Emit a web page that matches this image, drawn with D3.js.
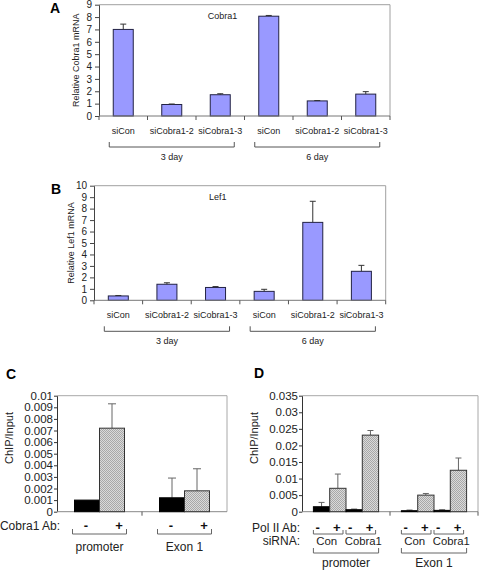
<!DOCTYPE html>
<html><head><meta charset="utf-8">
<script src="https://cdn.jsdelivr.net/npm/d3@7"></script>
<style>body{margin:0;background:#fff}svg{display:block;font-family:"Liberation Sans",Arial,sans-serif}</style>
</head><body>
<svg id="c" width="481" height="580"></svg>
<script>
// ---------- data ----------
const catsAB = ["siCon","siCobra1-2","siCobra1-3","siCon","siCobra1-2","siCobra1-3"];
const dayGroups = ["3 day","6 day"];
const cobra1Vals = [7.0,0.93,1.72,8.07,1.22,1.77];
const cobra1Err  = [0.43,0.04,0.08,0.06,0.03,0.2];
const cobra1Ticks = [0,1,2,3,4,5,6,7,8,9];
const lef1Vals = [0.38,1.4,1.12,0.78,6.8,2.53];
const lef1Err  = [0.04,0.13,0.08,0.18,1.84,0.52];
const lef1Ticks = [0,1,2,3,4,5,6,7,8,9,10];

const cRegions = ["promoter","Exon 1"];
const cAb = ["-","+"];
const cVals = [[0.001,0.0072],[0.0012,0.0018]];
const cErr  = [[0,0.0021],[0.0017,0.0019]];
const cTicks = [0,0.001,0.002,0.003,0.004,0.005,0.006,0.007,0.008,0.009,0.01];
const cTickLabels = ["0","0.001","0.002","0.003","0.004","0.005","0.006","0.007","0.008","0.009","0.01"];

const dRegions = ["promoter","Exon 1"];
const dSiRNA = ["Con","Cobra1"];
const dAb = ["-","+","-","+"];
const dVals = [[0.0015,0.00706,0.0006,0.0231],[0.0003,0.005,0.0004,0.0125]];
const dErr  = [[0.0013,0.0043,0.0002,0.0014],[0.0002,0.0005,0.0002,0.0037]];
const dTicks = [0,0.005,0.01,0.015,0.02,0.025,0.03,0.035];
const dTickLabels = ["0","0.005","0.01","0.015","0.02","0.025","0.03","0.035"];

const svg = d3.select("#c");
const defs = svg.append("defs");
const pat = defs.append("pattern").attr("id","dots").attr("width",2).attr("height",2).attr("patternUnits","userSpaceOnUse");
pat.append("rect").attr("width",2).attr("height",2).attr("fill","#dadada");
pat.append("rect").attr("width",1).attr("height",1).attr("fill","#a8a8a8");
pat.append("rect").attr("x",1).attr("y",1).attr("width",1).attr("height",1).attr("fill","#a8a8a8");

function bracket(g, x1, x2, yTop, yBot, color){
  g.append("path").attr("d",`M${x1},${yTop}V${yBot}H${x2}V${yTop}`)
   .attr("fill","none").attr("stroke",color||"#555").attr("stroke-width",1);
}

// ---------- panels A & B ----------
function panelAB(opt){
  const g = svg.append("g");
  const x = d3.scaleBand().domain(d3.range(catsAB.length)).range([opt.x0,opt.x1]);
  const y = d3.scaleLinear().domain([0,opt.max]).range([opt.y0,opt.yTop]);
  g.append("path").attr("d",`M${opt.x0},${opt.yTop}H${opt.x1}V${opt.y0}`).attr("fill","none").attr("stroke","#a0a0a0");
  const bw = 20;
  g.selectAll("rect.bar").data(opt.vals).join("rect")
    .attr("x",(d,i)=>x(i)+x.bandwidth()/2-bw/2).attr("width",bw)
    .attr("y",d=>y(d)).attr("height",d=>y(0)-y(d))
    .attr("fill","#9999ff").attr("stroke","#222244").attr("stroke-width",1);
  opt.vals.forEach((v,i)=>{
    const cx = x(i)+x.bandwidth()/2, e = opt.err[i];
    g.append("line").attr("x1",cx).attr("x2",cx).attr("y1",y(v)).attr("y2",y(v+e)).attr("stroke","#333");
    g.append("line").attr("x1",cx-3).attr("x2",cx+3).attr("y1",y(v+e)).attr("y2",y(v+e)).attr("stroke","#333");
  });
  const ya = g.append("g").attr("transform",`translate(${opt.x0},0)`)
    .call(d3.axisLeft(y).tickValues(opt.ticks).tickSize(4).tickSizeOuter(0).tickFormat(d3.format("d")));
  ya.select(".domain").attr("stroke","#444");
  ya.selectAll(".tick line").attr("stroke","#444");
  ya.selectAll("text").attr("font-size",10).attr("fill","#222").attr("font-family","Liberation Sans, Arial, sans-serif");
  g.append("line").attr("x1",opt.x0).attr("x2",opt.x1).attr("y1",opt.y0).attr("y2",opt.y0).attr("stroke","#777");
  d3.range(catsAB.length+1).forEach(i=>{
    const xx = i<catsAB.length ? x(i) : opt.x1;
    g.append("line").attr("x1",xx).attr("x2",xx).attr("y1",opt.y0).attr("y2",opt.y0+4).attr("stroke","#555");
  });
  g.selectAll("text.cat").data(catsAB).join("text")
    .attr("x",(d,i)=>x(i)+x.bandwidth()/2).attr("y",opt.y0+18)
    .attr("text-anchor","middle").attr("font-size",9).attr("fill","#222").text(d=>d);
  dayGroups.forEach((d,k)=>{
    const a = x(k*3)+x.bandwidth()/2-14, b = x(k*3+2)+x.bandwidth()/2+14;
    bracket(g,a,b,opt.y0+26,opt.y0+31);
    g.append("text").attr("x",(a+b)/2).attr("y",opt.y0+44).attr("text-anchor","middle")
      .attr("font-size",9).attr("fill","#222").text(d);
  });
  g.append("text").attr("x",(opt.x0+opt.x1)/2-22).attr("y",opt.yTop+14).attr("text-anchor","middle")
    .attr("font-size",9).attr("fill","#222").text(opt.title);
  g.append("text").attr("transform",`translate(${opt.x0-20},${(opt.y0+opt.yTop)/2}) rotate(-90)`)
    .attr("text-anchor","middle").attr("font-size",9).attr("fill","#222").text(opt.ylabel);
  g.append("text").attr("x",opt.letterX).attr("y",opt.yTop+8).attr("font-size",14).attr("font-weight","bold").text(opt.letter);
}

panelAB({x0:99,x1:390,y0:116,yTop:4.7,max:9,vals:cobra1Vals,err:cobra1Err,ticks:cobra1Ticks,
  title:"Cobra1",ylabel:"Relative Cobra1 mRNA",letter:"A",letterX:50});
panelAB({x0:94,x1:385.7,y0:300.3,yTop:185.7,max:10,vals:lef1Vals,err:lef1Err,ticks:lef1Ticks,
  title:"Lef1",ylabel:"Relative Lef1 mRNA",letter:"B",letterX:51});

// ---------- panel C / D common ----------
function chipAxes(g, x0, x1, y0, yTop, y, ticks, labels){
  g.append("path").attr("d",`M${x0},${yTop}H${x1}V${y0}`).attr("fill","none").attr("stroke","#a8a8a8");
  const ya = g.append("g").attr("transform",`translate(${x0},0)`)
    .call(d3.axisLeft(y).tickValues(ticks).tickSize(3).tickPadding(1).tickSizeOuter(0).tickFormat((d,i)=>labels[i]));
  ya.select(".domain").attr("stroke","#333");
  ya.selectAll(".tick line").attr("stroke","#333");
  ya.selectAll("text").attr("font-size",11.5).attr("fill","#222").attr("font-family","Liberation Sans, Arial, sans-serif");
  g.append("line").attr("x1",x0).attr("x2",x1).attr("y1",y0).attr("y2",y0).attr("stroke","#888");
}
function errBar(g, cx, top, etop, cap){
  g.append("line").attr("x1",cx).attr("x2",cx).attr("y1",top).attr("y2",etop).attr("stroke","#666");
  g.append("line").attr("x1",cx-cap).attr("x2",cx+cap).attr("y1",etop).attr("y2",etop).attr("stroke","#666");
}

// ---------- panel C ----------
{
  const g = svg.append("g");
  const x0=57,x1=227,y0=511.7,yTop=395.7;
  const x = d3.scaleBand().domain(cRegions).range([x0,x1]);
  const y = d3.scaleLinear().domain([0,0.01]).range([y0,yTop]);
  chipAxes(g,x0,x1,y0,yTop,y,cTicks,cTickLabels);
  g.append("line").attr("x1",x(cRegions[1])).attr("x2",x(cRegions[1])).attr("y1",y0).attr("y2",y0+4).attr("stroke","#555");
  const bw = 25;
  cRegions.forEach((r,k)=>{
    const c = x(r)+x.bandwidth()/2;
    cVals[k].forEach((v,j)=>{
      const bx = c-bw+j*bw;
      if(cErr[k][j]>0) errBar(g,bx+bw/2,y(v),y(v+cErr[k][j]),4);
      g.append("rect").attr("x",bx).attr("width",bw).attr("y",y(v)).attr("height",y0-y(v))
        .attr("fill",j===0?"#000":"url(#dots)").attr("stroke",j===0?"#000":"#333").attr("stroke-width",1);
      g.append("text").attr("x",bx+bw/2+(j===0?-1:7)).attr("y",530).attr("text-anchor","middle")
        .attr("font-size",13).attr("font-weight","bold").attr("fill","#111").text(cAb[j]);
    });
    bracket(g,c-27,c+27,529,534,"#666");
    g.append("text").attr("x",c).attr("y",551).attr("text-anchor","middle").attr("font-size",12).attr("fill","#222").text(r);
  });
  g.append("text").attr("x",60).attr("y",530).attr("text-anchor","end").attr("font-size",12).attr("fill","#222").text("Cobra1 Ab:");
  g.append("text").attr("transform",`translate(13,438) rotate(-90)`).attr("text-anchor","middle")
    .attr("font-size",11).attr("fill","#222").text("ChIP/Input");
  g.append("text").attr("x",6).attr("y",379).attr("font-size",14).attr("font-weight","bold").text("C");
}

// ---------- panel D ----------
{
  const g = svg.append("g");
  const x0=302,x1=478,y0=511.7,yTop=395.7;
  const x = d3.scaleBand().domain(dRegions).range([x0,x1]);
  const y = d3.scaleLinear().domain([0,0.035]).range([y0,yTop]);
  chipAxes(g,x0,x1,y0,yTop,y,dTicks,dTickLabels);
  [x(dRegions[1]), x1].forEach(xx=>g.append("line").attr("x1",xx).attr("x2",xx).attr("y1",y0).attr("y2",y0+4).attr("stroke","#555"));
  const bw = 16.3;
  dRegions.forEach((r,k)=>{
    const c = x(r)+x.bandwidth()/2;
    const start = c-2*bw;
    dVals[k].forEach((v,j)=>{
      const bx = start+j*bw;
      errBar(g,bx+bw/2,y(v),y(v+dErr[k][j]),3);
      const black = j%2===0;
      g.append("rect").attr("x",bx).attr("width",bw).attr("y",y(v)).attr("height",y0-y(v))
        .attr("fill",black?"#000":"url(#dots)").attr("stroke",black?"#000":"#333").attr("stroke-width",1);
      g.append("text").attr("x",bx+bw/2+(black?-4:-1)).attr("y",532).attr("text-anchor","middle")
        .attr("font-size",13).attr("font-weight","bold").attr("fill","#111").text(dAb[j]);
    });
    dSiRNA.forEach((s,m)=>{
      const a = start+m*2*bw, b = a+2*bw;
      bracket(g,a,b-3,530,534,"#666");
      g.append("text").attr("x",(a+b)/2+(m===0?-3:1)).attr("y",545).attr("text-anchor","middle")
        .attr("font-size",11.5).attr("textLength",m===0?21:37).attr("lengthAdjust","spacingAndGlyphs")
        .attr("fill","#222").text(s);
    });
    bracket(g,start,start+4*bw,548,553,"#666");
    g.append("text").attr("x",c).attr("y",567).attr("text-anchor","middle").attr("font-size",12).attr("fill","#222").text(r);
  });
  g.append("text").attr("x",300).attr("y",532).attr("text-anchor","end").attr("font-size",12).attr("fill","#222").text("Pol II Ab:");
  g.append("text").attr("x",300).attr("y",545).attr("text-anchor","end").attr("font-size",12).attr("fill","#222").text("siRNA:");
  g.append("text").attr("transform",`translate(258,438) rotate(-90)`).attr("text-anchor","middle")
    .attr("font-size",11).attr("fill","#222").text("ChIP/Input");
  g.append("text").attr("x",254).attr("y",378).attr("font-size",14).attr("font-weight","bold").text("D");
}
</script>
</body></html>
